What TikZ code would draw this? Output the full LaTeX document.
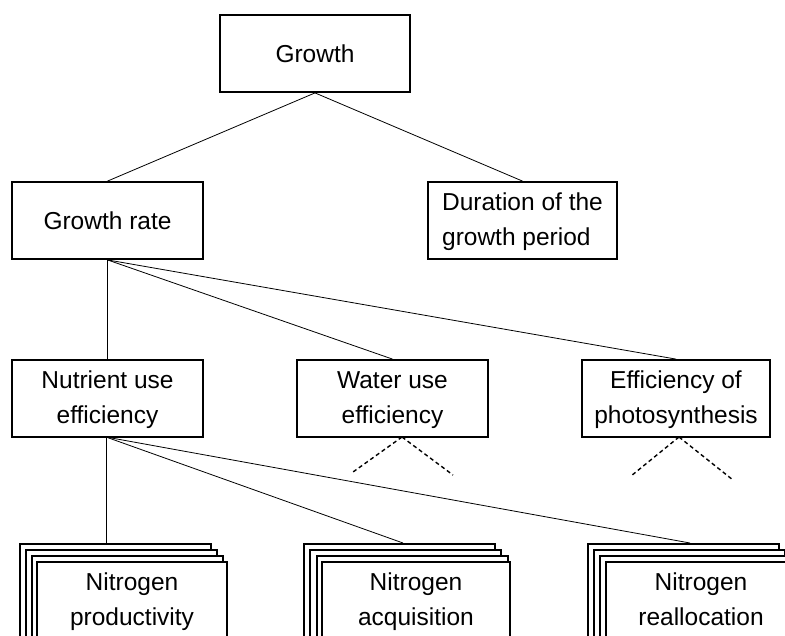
\documentclass[tikz,border=0pt]{standalone}
\usepackage{fontspec}
\setmainfont{Liberation Sans}
\begin{document}
\begin{tikzpicture}[x=1pt,y=-1pt,
  box/.style={draw, line width=1.8pt, fill=white, inner sep=0pt, align=center,
    minimum height=77pt, font=\fontsize{24.5}{35}\selectfont},
  layer/.style={draw, line width=1.8pt, fill=white, inner sep=0pt, anchor=north west,
    minimum width=191pt, minimum height=100pt},
  front/.style={box, minimum width=190pt, minimum height=78pt},
  conn/.style={line width=0.8pt},
  dots/.style={line width=1.4pt, dash pattern=on 4pt off 3pt}]
\useasboundingbox (0,0) rectangle (785,635);
\clip (0,0) rectangle (785,635);

% top levels
\node[box, minimum width=190pt] (g) at (315,53.5) {Growth};
\node[box, minimum width=191pt] (gr) at (107.5,220.5) {Growth rate};
\node[box, minimum width=189pt, align=left] (d) at (522.5,220.5) {\strut Duration of the\\\strut growth period};
\node[box, minimum width=191pt] (nue) at (107.5,398.5) {\strut Nutrient use\\\strut efficiency};
\node[box, minimum width=191pt] (wue) at (392.5,398.5) {\strut Water use\\\strut efficiency};
\node[box, minimum width=188pt] (eph) at (676,398.5) {\strut Efficiency of\\\strut photosynthesis};

% stack 1
\node[layer] (np3) at (19,543) {};
\node[layer] (np2) at (25,549) {};
\node[layer] (np1) at (31,555) {};
\node[front] (np) at (132,601) {\strut Nitrogen\\\strut productivity};
% stack 2
\node[layer] (na3) at (303,543) {};
\node[layer] (na2) at (309,549) {};
\node[layer] (na1) at (316,555) {};
\node[front, minimum width=188pt] (na) at (416,601) {\strut Nitrogen\\\strut acquisition};
% stack 3
\node[layer] (nr3) at (587,543) {};
\node[layer] (nr2) at (593,549) {};
\node[layer] (nr1) at (599,555) {};
\node[front] (nr) at (701,601) {\strut Nitrogen\\\strut reallocation};

% connector end points
\coordinate (nsrc) at (106,437);
\coordinate (nat) at (403,543);
\coordinate (nrt) at (690,543);
\coordinate (wa) at (402,437);
\coordinate (wl) at (353,472);
\coordinate (wr) at (453,475);
\coordinate (ea) at (679,437);
\coordinate (el) at (631,476);
\coordinate (er) at (733,480);

% connectors
\draw[conn] (g.south) -- (gr.north);
\draw[conn] (g.south) -- (d.north);
\draw[conn] (gr.south) -- (nue.north);
\draw[conn] (gr.south) -- (wue.north);
\draw[conn] (gr.south) -- (eph.north);
\draw[conn] (nsrc) -- (nsrc |- np3.north);
\draw[conn] (nsrc) -- (nat);
\draw[conn] (nsrc) -- (nrt);

% dotted continuations
\draw[dots] (wa) -- (wl);
\draw[dots] (wa) -- (wr);
\draw[dots] (ea) -- (el);
\draw[dots] (ea) -- (er);
\end{tikzpicture}
\end{document}
